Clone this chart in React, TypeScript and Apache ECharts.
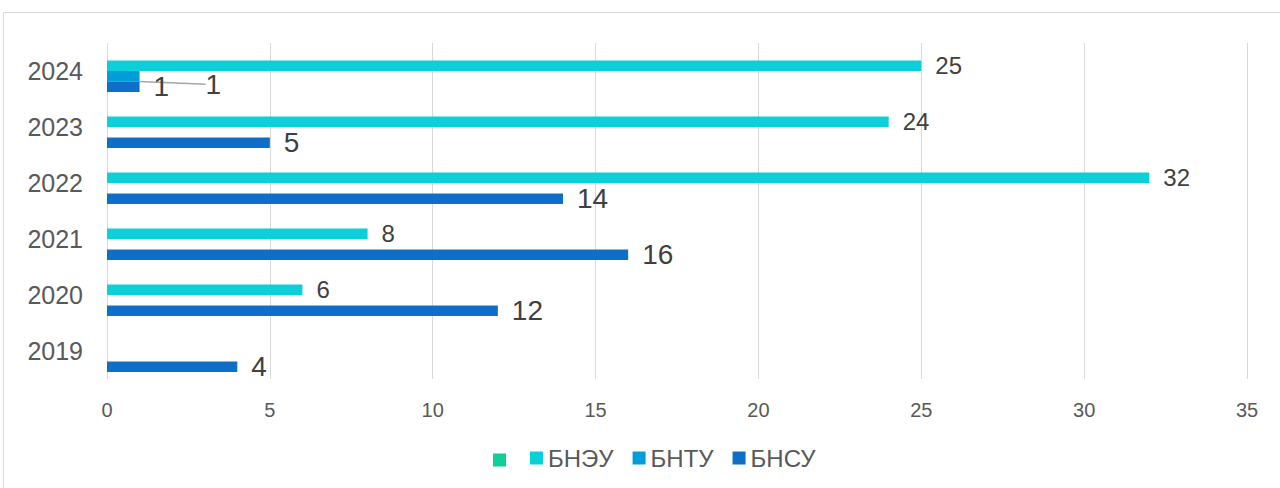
import React, { useEffect, useRef } from "react";
import * as echarts from "echarts";

const years = ["2019", "2020", "2021", "2022", "2023", "2024"];
const seriesNames = ["", "БНЭУ", "БНТУ", "БНСУ"];
const greenValues: (number | null)[] = [null, null, null, null, null, null];
const bneuValues: (number | null)[] = [null, 6, 8, 32, 24, 25];
const bntuValues: (number | null)[] = [null, null, null, null, null, 1];
const bnsuValues: (number | null)[] = [4, 12, 16, 14, 5, 1];
const xTicks = { min: 0, max: 35, interval: 5 };

const colors = ["#10CF9B", "#0BD0D9", "#009DD9", "#0F6FC6"];
const FONT = "Liberation Sans, Arial, sans-serif";

export default function App() {
  const ref = useRef<HTMLDivElement>(null);
  useEffect(() => {
    if (!ref.current) return;
    const chart = echarts.init(ref.current, undefined, { renderer: "svg" });
    const baseLabel = {
      show: true,
      position: "right" as const,
      color: "#404040",
      fontFamily: FONT,
    };
    chart.setOption({
      animation: false,
      textStyle: { fontFamily: FONT },
      graphic: [
        {
          type: "rect",
          shape: { x: 3.5, y: 12.5, width: 1300, height: 500 },
          style: { fill: "none", stroke: "#d9d9d9", lineWidth: 1 },
          silent: true,
        },
        {
          type: "rect",
          shape: { x: 493, y: 453.5, width: 13, height: 13 },
          style: { fill: colors[0] },
          silent: true,
        },
      ],
      grid: { left: 107, right: 33, top: 43, height: 336, containLabel: false },
      legend: {
        left: 530,
        top: 446,
        padding: 0,
        itemWidth: 13,
        itemHeight: 13,
        itemGap: 19,
        icon: "rect",
        textStyle: { color: "#595959", fontSize: 24, fontFamily: FONT },
        data: seriesNames.slice(1),
      },
      xAxis: {
        type: "value",
        min: xTicks.min,
        max: xTicks.max,
        interval: xTicks.interval,
        axisLine: { show: false },
        axisTick: { show: false },
        axisLabel: { color: "#595959", fontSize: 20, margin: 21, fontFamily: FONT },
        splitLine: { show: true, lineStyle: { color: "#d9d9d9", width: 1 } },
      },
      yAxis: {
        type: "category",
        data: years,
        axisLine: { show: false },
        axisTick: { show: false },
        axisLabel: { color: "#595959", fontSize: 25, margin: 24, fontFamily: FONT },
        splitLine: { show: false },
      },
      series: [
        {
          name: seriesNames[0],
          type: "bar",
          data: greenValues,
          itemStyle: { color: colors[0] },
          barGap: "0%",
          barCategoryGap: "25%",
        },
        {
          name: seriesNames[1],
          type: "bar",
          data: bneuValues,
          itemStyle: { color: colors[1] },
          barGap: "0%",
          barCategoryGap: "25%",
          label: { ...baseLabel, fontSize: 24, distance: 14 },
        },
        {
          name: seriesNames[2],
          type: "bar",
          data: bntuValues,
          itemStyle: { color: colors[2] },
          barGap: "0%",
          barCategoryGap: "25%",
          label: { ...baseLabel, fontSize: 28, distance: 8 },
          labelLayout: { dx: 58, dy: 8 },
          labelLine: { show: true, lineStyle: { color: "#a6a6a6", width: 1.5 } },
        },
        {
          name: seriesNames[3],
          type: "bar",
          data: bnsuValues,
          itemStyle: { color: colors[3] },
          barGap: "0%",
          barCategoryGap: "25%",
          label: { ...baseLabel, fontSize: 28, distance: 14 },
        },
      ],
    });
    return () => chart.dispose();
  }, []);
  return (
    <div
      ref={ref}
      style={{ position: "fixed", left: 0, top: 0, width: 1280, height: 488, background: "#fff" }}
    />
  );
}
